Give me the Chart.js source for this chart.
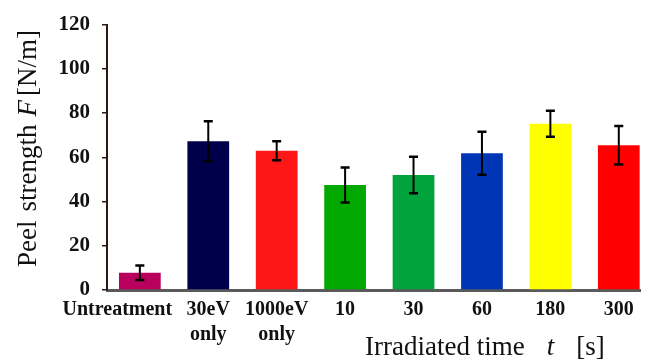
<!DOCTYPE html>
<html>
<head>
<meta charset="utf-8">
<script src="https://cdn.jsdelivr.net/npm/chart.js@4"></script>
<style>
  html, body { margin: 0; padding: 0; background: #fff; overflow: hidden; }
  #wrap { width: 652px; height: 360px; }
</style>
</head>
<body>
<div id="wrap"><canvas id="peelChart" width="652" height="360"></canvas></div>
<script>
// Data
const categories = [['Untreatment'], ['30eV', 'only'], ['1000eV', 'only'], ['10'], ['30'], ['60'], ['180'], ['300']];
const peel = [7.8, 67.3, 63, 47.5, 52, 61.8, 75.2, 65.5];
const peelErr = [3.3, 9, 4.3, 7.9, 8.2, 9.7, 5.9, 8.7];
const barColors = ['#b8005c', '#00004a', '#ff1616', '#00a800', '#00a33c', '#0036b6', '#ffff00', '#ff0000'];
const yTicks = [0, 20, 40, 60, 80, 100, 120];

const serif = '"Liberation Serif", "Times New Roman", serif';

// Error bars drawn on top of the bars
const errorBars = {
    id: 'errorBars',
    afterDatasetsDraw(chart) {
        const { ctx, scales: { x, y } } = chart;
        ctx.save();
        ctx.strokeStyle = '#000';
        peel.forEach((v, i) => {
            const px = x.getPixelForValue(i);
            const top = y.getPixelForValue(v + peelErr[i]);
            const bot = y.getPixelForValue(v - peelErr[i]);
            ctx.lineWidth = 2;
            ctx.beginPath();
            ctx.moveTo(px, top);
            ctx.lineTo(px, bot);
            ctx.stroke();
            ctx.lineWidth = 2.5;
            ctx.beginPath();
            ctx.moveTo(px - 4.5, top);
            ctx.lineTo(px + 4.5, top);
            ctx.moveTo(px - 4.5, bot);
            ctx.lineTo(px + 4.5, bot);
            ctx.stroke();
        });
        ctx.restore();
    }
};

// Axis titles with italic symbols
function drawParts(ctx, parts) {
    let pos = 0;
    parts.forEach(p => {
        ctx.font = p.font;
        ctx.fillText(p.text, pos, 0);
        pos += ctx.measureText(p.text).width + (p.gap || 0);
    });
}

const axisTitles = {
    id: 'axisTitles',
    afterDraw(chart) {
        const ctx = chart.ctx;
        const normal = '27px ' + serif;
        const italic = 'italic 27px ' + serif;
        ctx.save();
        ctx.fillStyle = '#111';
        ctx.textBaseline = 'alphabetic';
        ctx.textAlign = 'left';

        // y title, rotated
        ctx.translate(36, 267);
        ctx.rotate(-Math.PI / 2);
        drawParts(ctx, [
            { text: 'Peel', font: normal, gap: 9 },
            { text: 'strength', font: normal, gap: 8 },
            { text: 'F', font: italic, gap: 4 },
            { text: '[N/m]', font: normal }
        ]);
        ctx.setTransform(1, 0, 0, 1, 0, 0);

        // x title
        ctx.translate(365, 355);
        drawParts(ctx, [
            { text: 'Irradiated time', font: normal, gap: 22 },
            { text: 't', font: italic, gap: 22 },
            { text: '[s]', font: normal }
        ]);
        ctx.restore();
    }
};

const ctx = document.getElementById('peelChart').getContext('2d');
new Chart(ctx, {
    type: 'bar',
    data: {
        datasets: [{
            data: peel.map((v, i) => ({ x: i, y: v })),
            backgroundColor: barColors,
            borderWidth: 0,
            barPercentage: 0.61,
            categoryPercentage: 1
        }]
    },
    options: {
        responsive: false,
        animation: false,
        layout: { padding: { top: 20, right: 12, left: 0, bottom: 0 } },
        plugins: {
            legend: { display: false },
            tooltip: { enabled: false }
        },
        scales: {
            x: {
                type: 'linear',
                offset: false,
                min: -0.48,
                max: 7.31,
                afterBuildTicks: (scale) => {
                    scale.ticks = categories.map((c, i) => ({ value: i }));
                },
                afterFit: (scale) => { scale.height = 70; },
                grid: { drawOnChartArea: false, drawTicks: false },
                border: { display: true, color: '#5a5a5a', width: 3 },
                ticks: {
                    autoSkip: false,
                    maxRotation: 0,
                    padding: 7,
                    color: '#111',
                    font: { family: serif, size: 20, weight: 'bold', lineHeight: 1.25 },
                    callback: (value) => {
                        const lab = categories[value];
                        // first label sits left of its bar in the original
                        return value === 0 ? lab[0] + '         ' : lab;
                    }
                }
            },
            y: {
                min: 0,
                max: 120,
                afterBuildTicks: (scale) => {
                    scale.ticks = yTicks.map(v => ({ value: v }));
                },
                afterFit: (scale) => { scale.width = 107; },
                grid: { drawOnChartArea: false, drawTicks: true, tickLength: 5, color: '#2a1a10', lineWidth: 1.5 },
                border: { display: true, color: '#2a1a10', width: 2 },
                ticks: {
                    padding: 12,
                    color: '#111',
                    font: { family: serif, size: 21, weight: 'bold' }
                }
            }
        }
    },
    plugins: [errorBars, axisTitles]
});
</script>
</body>
</html>
